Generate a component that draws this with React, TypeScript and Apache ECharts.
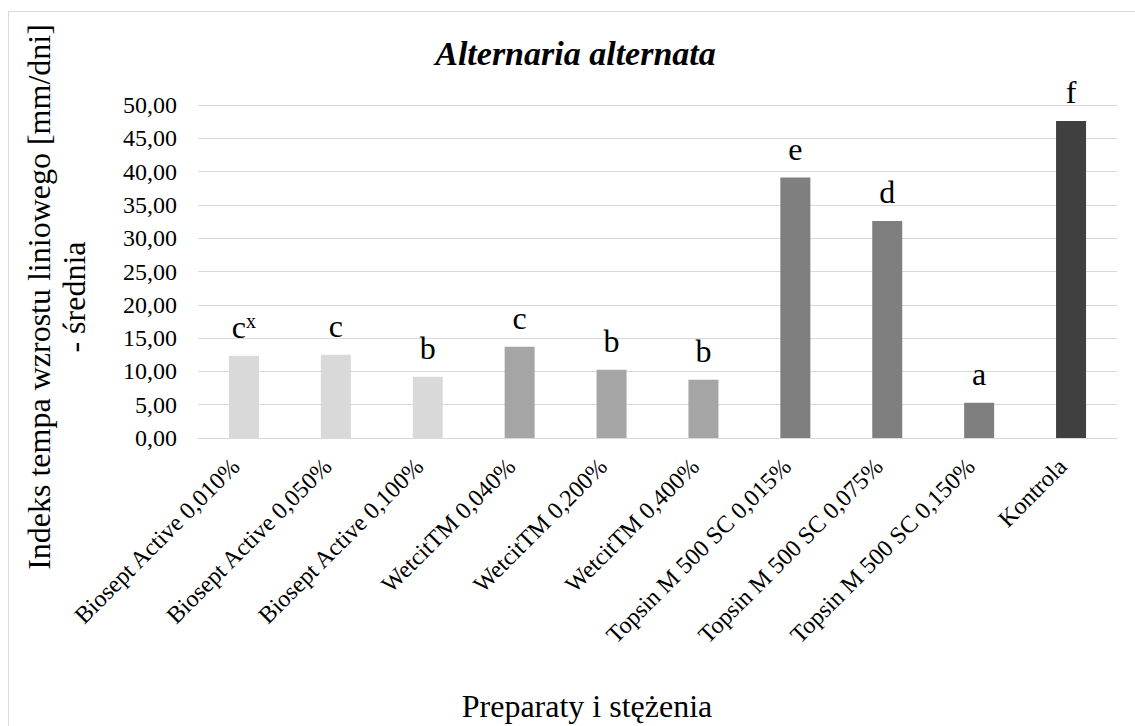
import React, { useEffect, useRef } from "react";
import * as echarts from "echarts";

// Treatments (product + concentration) shown along the category axis
const categories = [
  "Biosept Active 0,010%",
  "Biosept Active 0,050%",
  "Biosept Active 0,100%",
  "WetcitTM 0,040%",
  "WetcitTM 0,200%",
  "WetcitTM 0,400%",
  "Topsin M 500 SC 0,015%",
  "Topsin M 500 SC 0,075%",
  "Topsin M 500 SC 0,150%",
  "Kontrola",
];

// Mean linear growth rate index [mm/dni]
const growthIndex = [12.36, 12.5, 9.2, 13.7, 10.25, 8.75, 39.1, 32.6, 5.3, 47.6];

// Homogeneous group letters and their superscript marks
const groupLetters = ["c", "c", "b", "c", "b", "b", "e", "d", "a", "f"];
const groupMarks = ["x", "", "", "", "", "", "", "", "", ""];

// Value axis range
const yMin = 0;
const yMax = 50;
const yStep = 5;

const chartTitle = "Alternaria alternata";
const yAxisTitle = "Indeks tempa wzrostu liniowego [mm/dni]\n- średnia";
const xAxisTitle = "Preparaty i stężenia";

const serif = "'Liberation Serif', 'Times New Roman', Times, serif";

// Fill colour per product family
const productColors: { prefix: string; color: string }[] = [
  { prefix: "Biosept", color: "#d9d9d9" },
  { prefix: "Wetcit", color: "#a5a5a5" },
  { prefix: "Topsin", color: "#7f7f7f" },
  { prefix: "Kontrola", color: "#404040" },
];

const colorFor = (name: string) =>
  (productColors.find((p) => name.startsWith(p.prefix)) || productColors[0]).color;

export default function App() {
  const ref = useRef<HTMLDivElement>(null);

  useEffect(() => {
    if (!ref.current) return;
    const chart = echarts.init(ref.current, undefined, { renderer: "svg" });

    const option: any = {
      animation: false,
      backgroundColor: "#ffffff",
      grid: { left: 198, right: 18, top: 105, bottom: 288, containLabel: false },
      xAxis: {
        type: "category",
        data: categories,
        axisLine: { show: true, lineStyle: { color: "#d9d9d9", width: 1 } },
        axisTick: { show: false },
        axisLabel: {
          interval: 0,
          rotate: 45,
          margin: 16,
          padding: [0, 12, 0, 0],
          color: "#000000",
          fontFamily: serif,
          fontSize: 24,
        },
      },
      yAxis: {
        type: "value",
        min: yMin,
        max: yMax,
        interval: yStep,
        axisLine: { show: false },
        axisTick: { show: false },
        splitLine: { lineStyle: { color: "#d9d9d9", width: 1 } },
        axisLabel: {
          margin: 21,
          color: "#000000",
          fontFamily: serif,
          fontSize: 24,
          formatter: (v: number) => v.toFixed(2).replace(".", ","),
        },
      },
      series: [
        {
          type: "bar",
          barWidth: 30,
          data: growthIndex.map((v, i) => ({
            value: v,
            itemStyle: { color: colorFor(categories[i]) },
          })),
          label: {
            show: true,
            position: "top",
            distance: 13,
            formatter: (p: any) => {
              const mark = groupMarks[p.dataIndex];
              return `{l|${groupLetters[p.dataIndex]}}` + (mark ? `{s|${mark}}` : "");
            },
            rich: {
              l: { fontFamily: serif, fontSize: 32, color: "#000000" },
              s: { fontFamily: serif, fontSize: 20, color: "#000000", verticalAlign: "top" },
            },
          },
        },
      ],
      graphic: [
        {
          type: "rect",
          silent: true,
          shape: { x: 8.5, y: 11.5, width: 1200, height: 800 },
          style: { fill: "none", stroke: "#d9d9d9", lineWidth: 1 },
        },
        {
          type: "text",
          x: 575.5,
          y: 53.5,
          style: {
            text: chartTitle,
            fontFamily: serif,
            fontSize: 34,
            fontWeight: "bold",
            fontStyle: "italic",
            fill: "#000000",
            align: "center",
            verticalAlign: "middle",
          },
        },
        {
          type: "text",
          x: 56,
          y: 297,
          rotation: Math.PI / 2,
          style: {
            text: yAxisTitle,
            fontFamily: serif,
            fontSize: 32,
            lineHeight: 35,
            fill: "#000000",
            align: "center",
            verticalAlign: "middle",
          },
        },
        {
          type: "text",
          x: 587,
          y: 706,
          style: {
            text: xAxisTitle,
            fontFamily: serif,
            fontSize: 32,
            fill: "#000000",
            align: "center",
            verticalAlign: "middle",
          },
        },
      ],
    };

    chart.setOption(option);
    return () => chart.dispose();
  }, []);

  return (
    <div
      ref={ref}
      style={{ position: "absolute", left: 0, top: 0, width: 1135, height: 726, background: "#ffffff" }}
    />
  );
}
